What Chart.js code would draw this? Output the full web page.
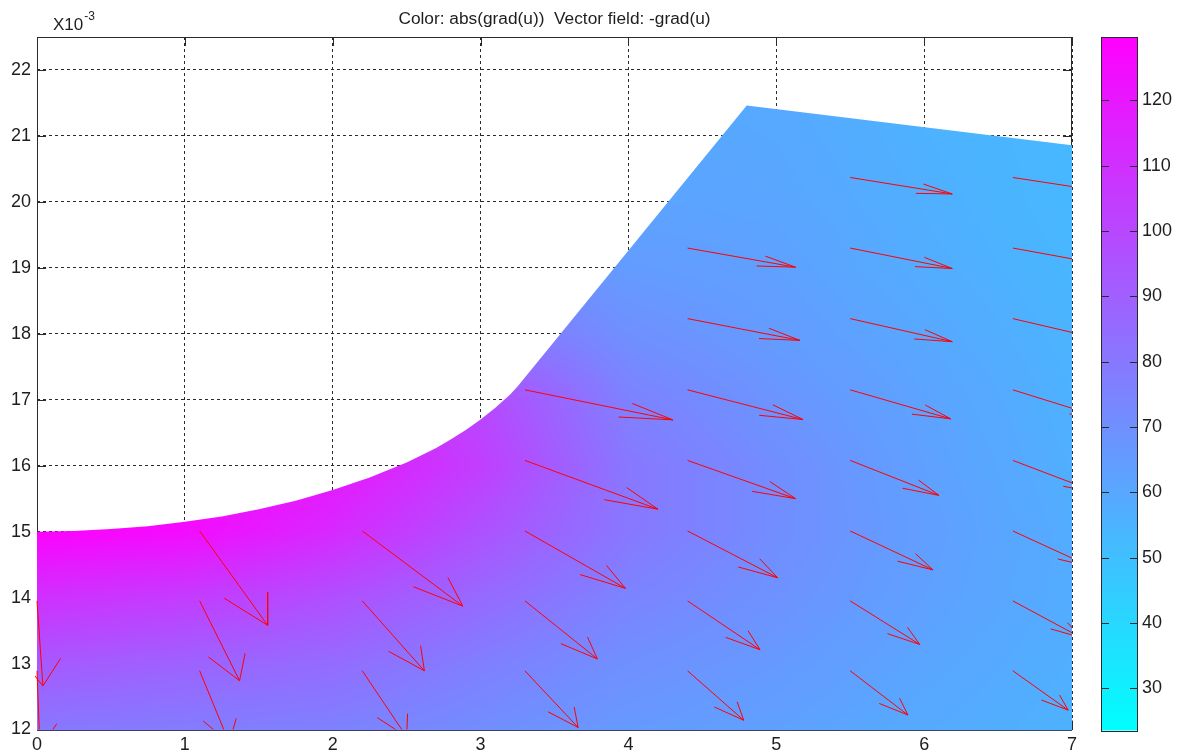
<!DOCTYPE html>
<html>
<head>
<meta charset="utf-8">
<script src="https://cdn.jsdelivr.net/npm/chart.js@4.4.1/dist/chart.umd.min.js"></script>
<style>
  html, body { margin: 0; padding: 0; background: #ffffff; }
  #wrap { width: 1181px; height: 756px; position: relative; }
</style>
</head>
<body>
<div id="wrap"><canvas id="plot" width="1181" height="756"></canvas></div>
<script>
// ---- axes (x and y in units of 1e-3) ----
const xTicks = [0, 1, 2, 3, 4, 5, 6, 7];
const yTicks = [12, 13, 14, 15, 16, 17, 18, 19, 20, 21, 22];
const colorTicks = [30, 40, 50, 60, 70, 80, 90, 100, 110, 120];
const colorRange = [23.7, 129.7];

// ---- outline of the computational domain (arc, sloped edge, top edge) ----
const edgeX = [0, 0, 0.25, 0.5, 0.75, 1.0, 1.25, 1.5, 1.75, 2.0, 2.25, 2.5, 2.6, 2.7, 2.8, 2.9, 3.0, 3.1, 3.2, 3.25, 3.29, 4.8, 7.0, 7.0];
const edgeY = [12, 15.0, 15.01, 15.04, 15.08, 15.15, 15.23, 15.34, 15.47, 15.63, 15.82, 16.05, 16.16, 16.27, 16.40, 16.54, 16.70, 16.88, 17.08, 17.20, 17.31, 21.46, 20.86, 12];

// ---- abs(grad(u)) at mesh nodes (columns nodeX, one array per row of nodeY) ----
const nodeX = [0, 1, 2, 3, 4, 5, 6, 7];
const nodeY = [12, 13, 14, 15, 16, 17, 18, 19, 20, 21, 22];
const gradY12 = [80, 78, 76, 71, 66, 63, 59, 56];
const gradY13 = [93, 89, 85, 77, 70, 66, 61, 57];
const gradY14 = [110, 105, 97, 86, 75, 69, 63, 58];
const gradY15 = [129, 125, 113, 96, 80, 71, 64, 58];
const gradY16 = [129, 127, 121, 104, 80, 71, 63, 57];
const gradY17 = [128, 125, 116, 100, 76, 68, 62, 56];
const gradY18 = [120, 112, 100, 82, 70, 65, 60, 55];
const gradY19 = [105, 97, 86, 72, 65, 63, 58, 54];
const gradY20 = [95, 88, 78, 66, 62, 61, 57, 53];
const gradY21 = [88, 80, 72, 63, 61, 60, 56, 53];
const gradY22 = [84, 76, 68, 61, 60, 59, 55, 52];
const gradRows = [gradY12, gradY13, gradY14, gradY15, gradY16, gradY17, gradY18, gradY19, gradY20, gradY21, gradY22];

// ---- vector field -grad(u): arrow tails and components ----
const arrowX = [0, 0,
  1.1, 1.1, 1.1,
  2.2, 2.2, 2.2,
  3.3, 3.3, 3.3, 3.3, 3.3,
  4.4, 4.4, 4.4, 4.4, 4.4, 4.4, 4.4,
  5.5, 5.5, 5.5, 5.5, 5.5, 5.5, 5.5, 5.5,
  6.6, 6.6, 6.6, 6.6, 6.6, 6.6, 6.6, 6.6];
const arrowY = [13.95, 12.89,
  15.01, 13.95, 12.89,
  15.01, 13.95, 12.89,
  17.15, 16.08, 15.01, 13.95, 12.89,
  19.30, 18.23, 17.15, 16.08, 15.01, 13.95, 12.89,
  20.37, 19.30, 18.23, 17.15, 16.08, 15.01, 13.95, 12.89,
  20.37, 19.30, 18.23, 17.15, 16.08, 15.01, 13.95, 12.89];
const arrowU = [0.04, 0.02,
  0.46, 0.27, 0.20,
  0.68, 0.42, 0.30,
  1.00, 0.90, 0.68, 0.49, 0.36,
  0.73, 0.76, 0.78, 0.73, 0.61, 0.49, 0.38,
  0.69, 0.69, 0.69, 0.68, 0.60, 0.56, 0.47, 0.39,
  0.67, 0.66, 0.65, 0.63, 0.575, 0.53, 0.46, 0.374];
const arrowV = [-1.29, -1.18,
  -1.43, -1.21, -1.09,
  -1.14, -1.06, -1.00,
  -0.455, -0.74, -0.87, -0.88, -0.86,
  -0.29, -0.33, -0.45, -0.58, -0.71, -0.74, -0.75,
  -0.25, -0.31, -0.35, -0.44, -0.53, -0.59, -0.66, -0.67,
  -0.23, -0.27, -0.34, -0.44, -0.49, -0.545, -0.555, -0.596];

const FONT = '"Liberation Sans", Arial, Helvetica, sans-serif';
const INK = '#1e1e1e';
const FRAME = '#2a2a2a';

// quiver-style arrow: shaft plus two barbs, head size relative to the vector
const HEAD = 0.32;
const arrowPoints = [];
for (let i = 0; i < arrowX.length; i++) {
  const x0 = arrowX[i], y0 = arrowY[i], u = arrowU[i], v = arrowV[i];
  const hx = x0 + u, hy = y0 + v;
  arrowPoints.push(
    { x: x0, y: y0 }, { x: hx, y: hy }, { x: NaN, y: NaN },
    { x: hx - HEAD * (u + HEAD * v), y: hy - HEAD * (v - HEAD * u) },
    { x: hx, y: hy },
    { x: hx - HEAD * (u - HEAD * v), y: hy - HEAD * (v + HEAD * u) },
    { x: NaN, y: NaN }
  );
}

// "cool" colour map: cyan (low) -> magenta (high)
function coolColor(val) {
  let t = (val - colorRange[0]) / (colorRange[1] - colorRange[0]);
  t = Math.max(0, Math.min(1, t));
  return [Math.round(255 * t), Math.round(255 * (1 - t)), 255];
}

// shading between mesh nodes
function fieldAt(x, y) {
  const nx = nodeX.length, ny = nodeY.length;
  let i = 0; while (i < nx - 2 && x > nodeX[i + 1]) i++;
  let j = 0; while (j < ny - 2 && y > nodeY[j + 1]) j++;
  let fx = (x - nodeX[i]) / (nodeX[i + 1] - nodeX[i]);
  let fy = (y - nodeY[j]) / (nodeY[j + 1] - nodeY[j]);
  fx = Math.max(0, Math.min(1, fx)); fy = Math.max(0, Math.min(1, fy));
  const a = gradRows[j][i], b = gradRows[j][i + 1];
  const c = gradRows[j + 1][i], d = gradRows[j + 1][i + 1];
  return (a * (1 - fx) + b * fx) * (1 - fy) + (c * (1 - fx) + d * fx) * fy;
}

function domainPath(ctx, xs, ys, a) {
  ctx.beginPath();
  for (let k = 0; k < edgeX.length; k++) {
    const px = xs.getPixelForValue(edgeX[k]);
    let py = ys.getPixelForValue(edgeY[k]);
    if (edgeY[k] === 12) py = a.bottom + 1; // let the patch cover the lower axis line
    if (k === 0) ctx.moveTo(px, py); else ctx.lineTo(px, py);
  }
  ctx.closePath();
}

const fieldPlugin = {
  id: 'fieldPlugin',
  beforeDatasetsDraw(chart) {
    const { ctx, chartArea: a } = chart;
    const xs = chart.scales.x, ys = chart.scales.y;
    ctx.save();
    // axes box and inward tick marks
    ctx.strokeStyle = FRAME;
    ctx.lineWidth = 1;
    ctx.strokeRect(Math.round(a.left) + 0.5, Math.round(a.top) + 0.5,
      Math.round(a.right - a.left) - 1, Math.round(a.bottom - a.top));
    ctx.beginPath();
    const TL = 9;
    xTicks.forEach(v => {
      const px = Math.round(xs.getPixelForValue(v)) + 0.5;
      ctx.moveTo(px, a.top); ctx.lineTo(px, a.top + TL);
      ctx.moveTo(px, a.bottom); ctx.lineTo(px, a.bottom - TL);
    });
    yTicks.forEach(v => {
      const py = Math.round(ys.getPixelForValue(v)) + 0.5;
      ctx.moveTo(a.left, py); ctx.lineTo(a.left + TL, py);
      ctx.moveTo(a.right, py); ctx.lineTo(a.right - TL, py);
    });
    ctx.stroke();

    // colour field, clipped to the domain
    const W = Math.ceil(a.right - a.left) + 1, H = Math.ceil(a.bottom - a.top) + 2;
    const off = document.createElement('canvas');
    off.width = W; off.height = H;
    const octx = off.getContext('2d');
    const img = octx.createImageData(W, H);
    for (let j = 0; j < H; j++) {
      const yv = ys.getValueForPixel(a.top + j + 0.5);
      for (let i = 0; i < W; i++) {
        const xv = xs.getValueForPixel(a.left + i + 0.5);
        const c = coolColor(fieldAt(xv, yv));
        const p = (j * W + i) * 4;
        img.data[p] = c[0]; img.data[p + 1] = c[1]; img.data[p + 2] = c[2]; img.data[p + 3] = 255;
      }
    }
    octx.putImageData(img, 0, 0);
    ctx.beginPath();
    ctx.rect(a.left, a.top, a.right - a.left, a.bottom - a.top + 1);
    ctx.clip();
    domainPath(ctx, xs, ys, a);
    ctx.clip();
    ctx.drawImage(off, a.left, a.top);
    ctx.restore();
  },
  afterDraw(chart) {
    const { ctx, chartArea: a } = chart;
    const cb = chart.scales.cb;
    ctx.save();
    // colour bar
    const x0 = 1101, x1 = 1138;
    const yTop = cb.getPixelForValue(colorRange[1]);
    const yBot = cb.getPixelForValue(colorRange[0]) + 1;
    const g = ctx.createLinearGradient(0, yTop, 0, yBot);
    g.addColorStop(0, 'rgb(255,0,255)');
    g.addColorStop(1, 'rgb(0,255,255)');
    ctx.fillStyle = g;
    ctx.fillRect(x0, yTop, x1 - x0, yBot - yTop);
    ctx.strokeStyle = FRAME;
    ctx.lineWidth = 1;
    ctx.strokeRect(x0 + 0.5, Math.round(yTop) + 0.5, x1 - x0 - 1, Math.round(yBot - yTop));
    ctx.beginPath();
    colorTicks.forEach(v => {
      const py = Math.round(cb.getPixelForValue(v)) + 0.5;
      ctx.moveTo(x0, py); ctx.lineTo(x0 + 8, py);
      ctx.moveTo(x1, py); ctx.lineTo(x1 - 8, py);
    });
    ctx.stroke();

    // title
    ctx.fillStyle = INK;
    ctx.font = '17.3px ' + FONT;
    ctx.textAlign = 'center';
    ctx.textBaseline = 'alphabetic';
    ctx.fillText('Color: abs(grad(u))  Vector field: -grad(u)', (a.left + a.right) / 2, 24);

    // axis multiplier
    ctx.textAlign = 'left';
    ctx.font = '17px ' + FONT;
    ctx.fillText('X10', 53, 30);
    const w = ctx.measureText('X10').width;
    ctx.font = '12px ' + FONT;
    ctx.fillText('-3', 53 + w + 1, 20);
    ctx.restore();
  }
};

new Chart(document.getElementById('plot'), {
  type: 'scatter',
  data: {
    datasets: [{
      data: arrowPoints,
      showLine: true,
      spanGaps: false,
      borderColor: '#ff0000',
      borderWidth: 1,
      pointRadius: 0,
      pointHoverRadius: 0,
      clip: { left: 2, top: 0, right: 0, bottom: 0 }
    }]
  },
  options: {
    responsive: false,
    animation: false,
    devicePixelRatio: 1,
    events: [],
    layout: { padding: { top: 37, left: 0, right: 0, bottom: 0 } },
    plugins: { legend: { display: false }, tooltip: { enabled: false }, title: { display: false } },
    scales: {
      x: {
        type: 'linear', position: 'bottom', min: 0, max: 7,
        afterBuildTicks: s => { s.ticks = xTicks.map(v => ({ value: v })); },
        afterFit: s => { s.height = 26.5; s.paddingLeft = 0; s.paddingRight = 0; },
        grid: { color: FRAME, lineWidth: 1, drawTicks: false },
        border: { display: false, dash: [3, 3] },
        ticks: { padding: 5, color: INK, font: { size: 18, family: FONT }, maxRotation: 0, autoSkip: false }
      },
      y: {
        type: 'linear', position: 'left', min: 12, max: 22.5,
        afterBuildTicks: s => { s.ticks = yTicks.map(v => ({ value: v })); },
        afterFit: s => { s.width = 37; s.paddingTop = 0; s.paddingBottom = 0; },
        grid: {
          color: c => (c.tick && c.tick.value === 12 ? 'rgba(0,0,0,0)' : FRAME),
          lineWidth: 1, drawTicks: false
        },
        border: { display: false, dash: [3, 3] },
        ticks: { padding: 6, color: INK, font: { size: 18, family: FONT }, autoSkip: false }
      },
      cb: {
        type: 'linear', position: 'right', min: colorRange[0], max: colorRange[1],
        afterBuildTicks: s => { s.ticks = colorTicks.map(v => ({ value: v })); },
        afterFit: s => { s.width = 109; s.paddingTop = 0; s.paddingBottom = 0; },
        grid: { display: false, drawTicks: false },
        border: { display: false },
        ticks: { padding: 70, color: INK, font: { size: 18, family: FONT }, autoSkip: false }
      }
    }
  },
  plugins: [fieldPlugin]
});
</script>
</body>
</html>
